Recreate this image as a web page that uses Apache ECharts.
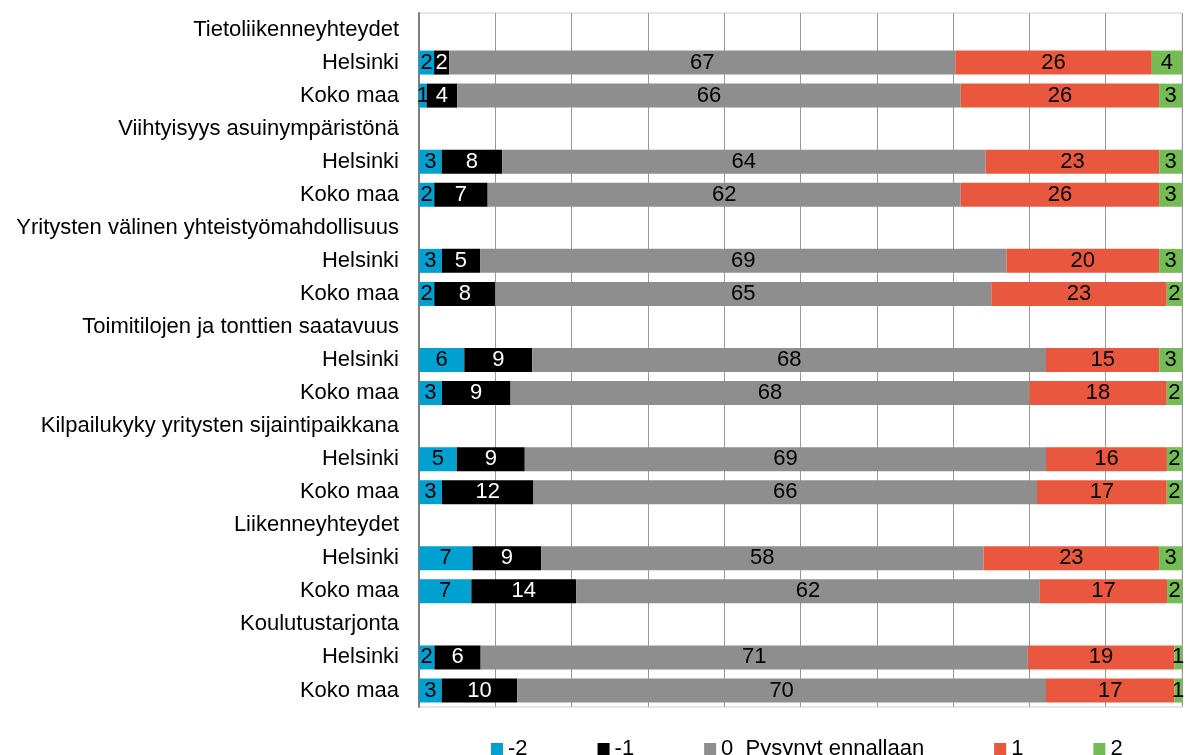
<!DOCTYPE html>
<html>
<head>
<meta charset="utf-8">
<script src="https://cdn.jsdelivr.net/npm/echarts@6/dist/echarts.min.js"></script>
<style>
  html, body { margin: 0; padding: 0; background: #fff; }
  #chart { width: 1192px; height: 755px; }
</style>
</head>
<body>
<div id="chart"></div>
<script>
// rivit ylhäältä alas: otsikkorivi + Helsinki + Koko maa
const categories = [
  'Tietoliikenneyhteydet', 'Helsinki', 'Koko maa',
  'Viihtyisyys asuinympäristönä', 'Helsinki', 'Koko maa',
  'Yritysten välinen yhteistyömahdollisuus', 'Helsinki', 'Koko maa',
  'Toimitilojen ja tonttien saatavuus', 'Helsinki', 'Koko maa',
  'Kilpailukyky yritysten sijaintipaikkana', 'Helsinki', 'Koko maa',
  'Liikenneyhteydet', 'Helsinki', 'Koko maa',
  'Koulutustarjonta', 'Helsinki', 'Koko maa'
];

const seriesNames = ['-2', '-1', '0  Pysynyt ennallaan', '1', '2'];

// null = otsikkorivi, ei palkkia
const minus2 = [null, 2, 1, null, 3, 2, null, 3, 2, null, 6, 3, null, 5, 3, null, 7, 7, null, 2, 3];
const minus1 = [null, 2, 4, null, 8, 7, null, 5, 8, null, 9, 9, null, 9, 12, null, 9, 14, null, 6, 10];
const zero   = [null, 67, 66, null, 64, 62, null, 69, 65, null, 68, 68, null, 69, 66, null, 58, 62, null, 71, 70];
const plus1  = [null, 26, 26, null, 23, 26, null, 20, 23, null, 15, 18, null, 16, 17, null, 23, 17, null, 19, 17];
const plus2  = [null, 4, 3, null, 3, 3, null, 3, 2, null, 3, 2, null, 2, 2, null, 3, 2, null, 1, 1];

const colors = ['#00A0D1', '#000000', '#8E8E8E', '#E9573F', '#74BC53'];
const labelColors = ['#000', '#fff', '#000', '#000', '#000'];
const font = 'Liberation Sans, Arial, sans-serif';

const chart = echarts.init(document.getElementById('chart'));
const raw = [minus2, minus1, zero, plus1, plus2];

// 100 % pinottu: summa skaalataan sataan
const totals = categories.map((c, i) => {
  if (minus2[i] === null) return null;
  return raw.reduce((s, arr) => s + arr[i], 0);
});

const series = raw.map((arr, k) => ({
  name: seriesNames[k],
  type: 'bar',
  stack: 'total',
  barWidth: 24,
  itemStyle: { color: colors[k] },
  label: {
    show: true,
    position: 'inside',
    color: labelColors[k],
    fontSize: 22,
    fontFamily: font,
    formatter: p => (p.data && p.data.raw != null) ? String(p.data.raw) : ''
  },
  data: arr.map((v, i) => v === null ? null : { value: v / totals[i] * 100, raw: v })
}));

const option = {
  animation: false,
  color: colors,
  grid: {
    left: 419,
    right: 10,
    top: 13,
    bottom: 48,
    show: true,
    borderColor: '#d0d0d0',
    borderWidth: 1
  },
  legend: {
    top: 733,
    left: 486,
    itemWidth: 12,
    itemHeight: 12,
    itemGap: 70,
    icon: 'rect',
    textStyle: { fontSize: 22, color: '#000', fontFamily: font },
    data: seriesNames
  },
  xAxis: {
    type: 'value',
    min: 0,
    max: 100,
    interval: 10,
    axisLabel: { show: false },
    axisLine: { show: false },
    axisTick: { show: false },
    splitLine: { show: true, lineStyle: { color: '#9a9a9a', width: 1 } }
  },
  yAxis: {
    type: 'category',
    inverse: true,
    data: categories,
    axisLine: { show: true, lineStyle: { color: '#7f7f7f', width: 2 } },
    axisTick: { show: false },
    axisLabel: {
      color: '#000',
      fontSize: 22,
      margin: 20,
      fontFamily: font
    }
  },
  series: series
};

chart.setOption(option);
</script>
</body>
</html>
